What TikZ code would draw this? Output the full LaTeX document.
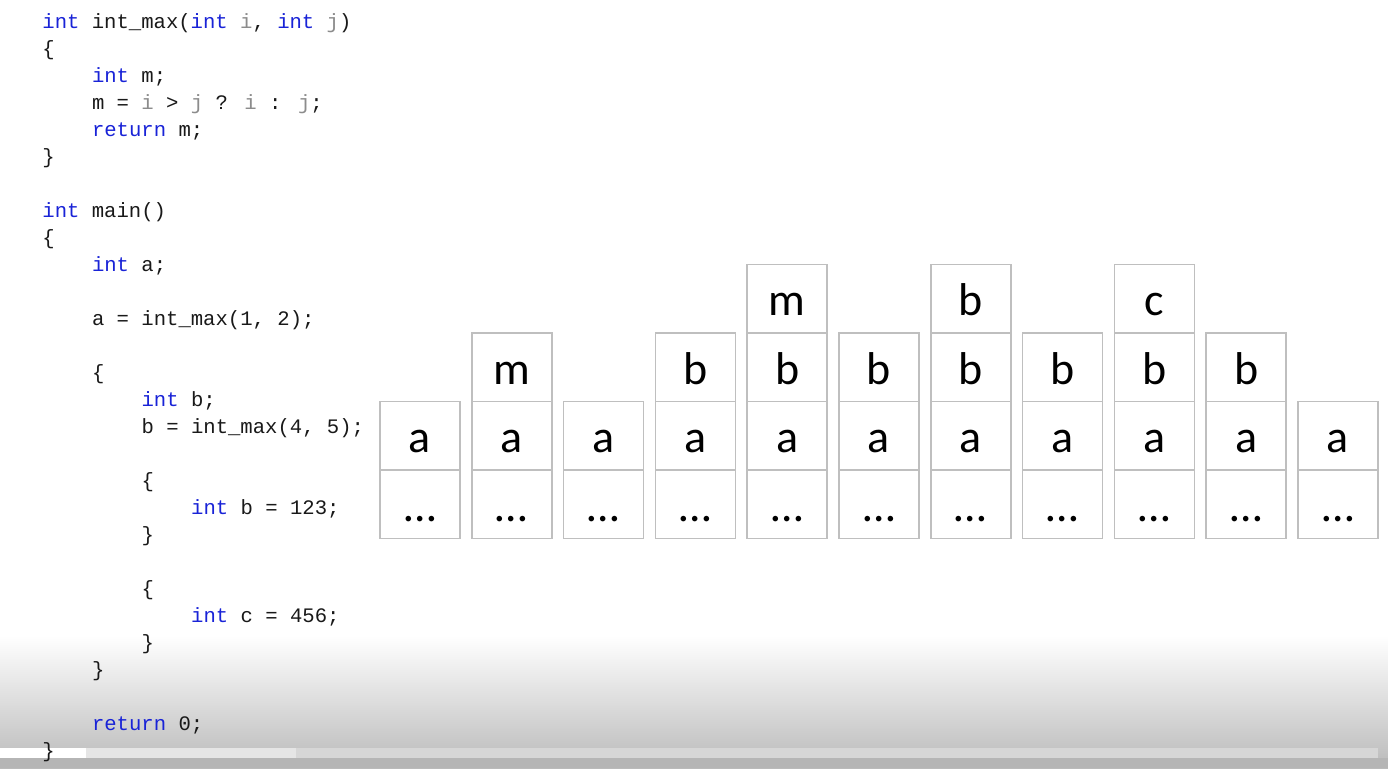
\documentclass[tikz,border=0pt]{standalone}
\usepackage{fontspec}
\setmainfont{Carlito}
\newfontfamily\codefont{Liberation Mono}
\usepackage{tikz}
\usetikzlibrary{positioning}
\usepackage{xcolor}

\definecolor{kwblue}{RGB}{25,35,215}
\definecolor{argray}{RGB}{140,140,140}
\definecolor{codeink}{RGB}{25,25,25}
\newcommand{\kw}[1]{\textcolor{kwblue}{#1}}
\newcommand{\pv}[1]{\textcolor{argray}{#1}}

\tikzset{
  codeline/.style={anchor=base west, inner sep=0pt, text=codeink,
    font=\codefont\fontsize{10.3pt}{12pt}\selectfont},
  cell/.style={draw=black!25, line width=0.75pt, inner sep=0pt, outer sep=0pt,
    minimum width=40pt, minimum height=34.25pt,
    text height=17pt, text depth=0pt,
    font=\fontsize{23pt}{28pt}\selectfont}
}

\begin{document}
\begin{tikzpicture}[x=0.5pt, y=-0.5pt]
        \useasboundingbox (0,0) rectangle (1388,768);
        \fill[white] (0,0) rectangle (1388,768);

        % Затемнение снизу (панель плеера)
        \shade[top color=white, bottom color=black!27] (0,636) rectangle (1388,768);
        \fill[white] (0,748) rectangle (86,758);
        \fill[black!10] (86,748) rectangle (296,758);
        \fill[black!16] (296,748) rectangle (1378,758);
        \fill[black!29] (0,758) rectangle (1388,768);

        % Исходный код
        \foreach \k/\ind/\txt in {
            0/0/{\kw{int} int\_max(\kw{int} \pv{i}, \kw{int} \pv{j})},
            1/0/{\{},
            2/1/{\kw{int} m;},
            3/1/{m = \pv{i} > \pv{j} ? \pv{i} : \pv{j};},
            4/1/{\kw{return} m;},
            5/0/{\}},
            7/0/{\kw{int} main()},
            8/0/{\{},
            9/1/{\kw{int} a;},
            11/1/{a = int\_max(1, 2);},
            13/1/{\{},
            14/2/{\kw{int} b;},
            15/2/{b = int\_max(4, 5);},
            17/2/{\{},
            18/3/{\kw{int} b = 123;},
            19/2/{\}},
            21/2/{\{},
            22/3/{\kw{int} c = 456;},
            23/2/{\}},
            24/1/{\}},
            26/1/{\kw{return} 0;},
            27/0/{\}}} {
            \node[codeline] (code\k) at (42+49.6*\ind, 28.5+27*\k) {\txt};
        }

        % Состояния стека
        \foreach \i/\lst in {0/{a}, 1/{a,m}, 2/{a}, 3/{a,b}, 4/{a,b,m}, 5/{a,b},
                             6/{a,b,b}, 7/{a,b}, 8/{a,b,c}, 9/{a,b}, 10/{a}} {
            \node[cell] (s\i-0) at (420+91.8*\i, 504) {…};
            \foreach \v [count=\r] in \lst {
                \pgfmathtruncatemacro{\p}{\r-1}
                \node[cell, above=0pt of s\i-\p] (s\i-\r) {\v};
            }
        }
    \end{tikzpicture}
\end{document}
